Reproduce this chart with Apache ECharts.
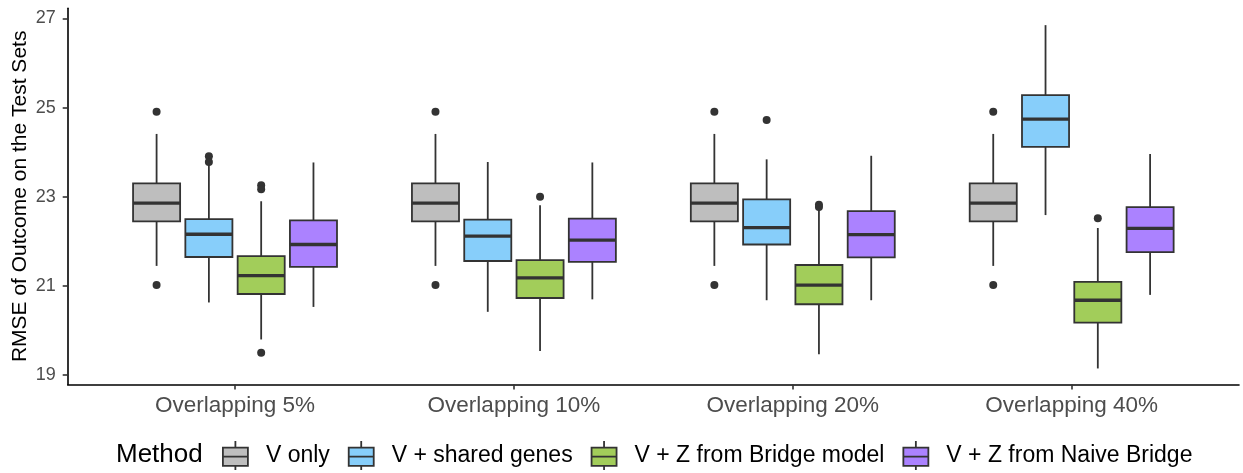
<!DOCTYPE html>
<html><head><meta charset="utf-8">
<script src="https://cdn.jsdelivr.net/npm/echarts@6/dist/echarts.min.js"></script>
<style>html,body{margin:0;padding:0;background:#fff}#c{width:1243px;height:473px}</style>
</head><body><div id="c"></div>
<script>
const categories = ['Overlapping 5%', 'Overlapping 10%', 'Overlapping 20%', 'Overlapping 40%'];
const methods = ['V only', 'V + shared genes', 'V + Z from Bridge model', 'V + Z from Naive Bridge'];
const methodColors = ['#BEBEBE', '#87CEFA', '#A2CD5A', '#AB82FF'];
const yTicks = [19, 21, 23, 25, 27];

// per overlap group: [lower whisker, Q1, median, Q3, upper whisker]
const statsVOnly = [
  [21.45, 22.45, 22.86, 23.30, 24.41],
  [21.45, 22.45, 22.86, 23.30, 24.41],
  [21.45, 22.45, 22.86, 23.30, 24.41],
  [21.45, 22.45, 22.86, 23.30, 24.41]
];
const statsShared = [
  [20.63, 21.65, 22.16, 22.50, 23.75],
  [20.42, 21.56, 22.12, 22.49, 23.78],
  [20.68, 21.93, 22.31, 22.94, 23.84],
  [22.59, 24.12, 24.74, 25.28, 26.85]
];
const statsBridge = [
  [19.80, 20.82, 21.23, 21.67, 22.90],
  [19.54, 20.73, 21.18, 21.58, 22.81],
  [19.47, 20.59, 21.02, 21.47, 22.72],
  [19.15, 20.18, 20.68, 21.09, 22.30]
];
const statsNaive = [
  [20.53, 21.43, 21.93, 22.47, 23.77],
  [20.70, 21.54, 22.03, 22.51, 23.77],
  [20.68, 21.64, 22.15, 22.68, 23.92],
  [20.80, 21.76, 22.29, 22.77, 23.96]
];
// outliers: [group index, value]
const outVOnly = [[0, 24.91], [0, 21.02], [1, 24.91], [1, 21.02], [2, 24.91], [2, 21.02], [3, 24.91], [3, 21.02]];
const outShared = [[0, 23.91], [0, 23.78], [2, 24.72]];
const outBridge = [[0, 23.26], [0, 23.17], [0, 19.50], [1, 23.00], [2, 22.82], [2, 22.77], [3, 22.52]];
const outNaive = [];

const allStats = [statsVOnly, statsShared, statsBridge, statsNaive];
const allOut = [outVOnly, outShared, outBridge, outNaive];

const FONT = '"Liberation Sans", Arial, Helvetica, sans-serif';
const DODGE = 0.75 / 4;            // ggplot-style dodge width per box
const HALF = DODGE * 0.9 / 2;      // half box width
const LINE = '#333333';

function makeRender(offset, color) {
  return function (params, api) {
    const c = api.value(0) + offset;
    const pLo = api.coord([c, api.value(1)]);
    const pQ1 = api.coord([c, api.value(2)]);
    const pMed = api.coord([c, api.value(3)]);
    const pQ3 = api.coord([c, api.value(4)]);
    const pHi = api.coord([c, api.value(5)]);
    const left = api.coord([c - HALF, api.value(3)])[0];
    const right = api.coord([c + HALF, api.value(3)])[0];
    return {
      type: 'group',
      children: [
        { type: 'line', shape: { x1: pHi[0], y1: pHi[1], x2: pQ3[0], y2: pQ3[1] }, style: { stroke: LINE, lineWidth: 1.8 } },
        { type: 'line', shape: { x1: pQ1[0], y1: pQ1[1], x2: pLo[0], y2: pLo[1] }, style: { stroke: LINE, lineWidth: 1.8 } },
        { type: 'rect', shape: { x: left, y: pQ3[1], width: right - left, height: pQ1[1] - pQ3[1] }, style: { fill: color, stroke: LINE, lineWidth: 1.8 } },
        { type: 'line', shape: { x1: left, y1: pMed[1], x2: right, y2: pMed[1] }, style: { stroke: LINE, lineWidth: 3.3 } }
      ]
    };
  };
}

const series = [];
methods.forEach(function (name, m) {
  const offset = (m - 1.5) * DODGE;
  series.push({
    name: name,
    type: 'custom',
    renderItem: makeRender(offset, methodColors[m]),
    itemStyle: { color: methodColors[m], borderColor: LINE, borderWidth: 1.8 },
    encode: { x: 0, y: [1, 2, 3, 4, 5] },
    data: allStats[m].map(function (s, g) { return [g + 1].concat(s); }),
    clip: false,
    z: 2
  });
});
methods.forEach(function (name, m) {
  const offset = (m - 1.5) * DODGE;
  series.push({
    name: 'outliers ' + name,
    type: 'scatter',
    symbol: 'circle',
    symbolSize: 8,
    itemStyle: { color: LINE, opacity: 1 },
    data: allOut[m].map(function (o) { return [o[0] + 1 + offset, o[1]]; }),
    z: 3
  });
});

const chart = echarts.init(document.getElementById('c'), null, { renderer: 'canvas' });
chart.setOption({
  animation: false,
  backgroundColor: '#ffffff',
  textStyle: { fontFamily: FONT },
  title: {
    text: 'Method', left: 116, top: 442, padding: 0,
    textStyle: { fontFamily: FONT, fontSize: 26, fontWeight: 'normal', color: '#000000' }
  },
  legend: {
    data: methods,
    left: 222, top: 440, padding: 0,
    itemWidth: 25, itemHeight: 29, itemGap: 18,
    icon: 'path://M12.5,0L12.5,6.7M0,6.7L25,6.7L25,25L0,25ZM0,15.8L25,15.8M12.5,25L12.5,29',
    itemStyle: { borderColor: LINE, borderWidth: 1.8 },
    textStyle: { fontFamily: FONT, fontSize: 23, color: '#000000', padding: [2, 0, 0, 13] },
    selectedMode: false
  },
  grid: { left: 67.7, right: 4, top: 8.2, bottom: 88.5, containLabel: false, outerBoundsMode: 'none' },
  xAxis: {
    type: 'value', min: 0.4, max: 4.6,
    axisLine: { show: true, lineStyle: { color: '#000000', width: 1.6 } },
    axisTick: { show: true, customValues: [1, 2, 3, 4], length: 5, lineStyle: { color: LINE, width: 1.6 } },
    axisLabel: {
      customValues: [1, 2, 3, 4], margin: 10,
      fontFamily: FONT, fontSize: 22.5, color: '#4D4D4D',
      formatter: function (v) { return categories[Math.round(v) - 1] || ''; }
    },
    splitLine: { show: false }
  },
  yAxis: {
    type: 'value', min: 18.79, max: 27.23,
    name: 'RMSE of Outcome on the Test Sets',
    nameLocation: 'middle', nameGap: 37, nameMoveOverlap: false,
    nameTextStyle: { fontFamily: FONT, fontSize: 21, color: '#000000' },
    axisLine: { show: true, lineStyle: { color: '#000000', width: 1.6 } },
    axisTick: { show: true, customValues: yTicks, length: 5, lineStyle: { color: LINE, width: 1.6 } },
    axisLabel: { customValues: yTicks, margin: 12, fontFamily: FONT, fontSize: 18, color: '#4D4D4D' },
    splitLine: { show: false }
  },
  series: series
});
</script>
</body></html>
